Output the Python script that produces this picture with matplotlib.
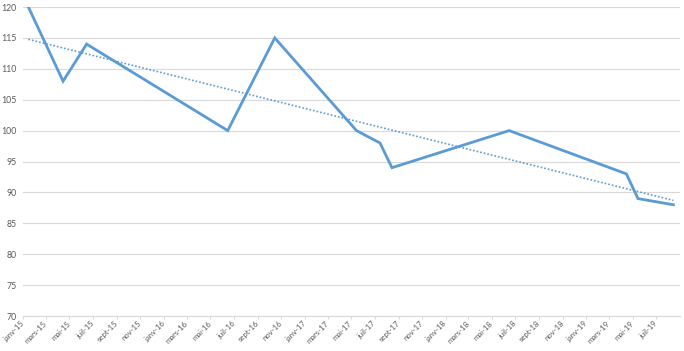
import datetime as dt
import matplotlib
matplotlib.use("Agg")
import matplotlib.pyplot as plt
import matplotlib.dates as mdates
import matplotlib.transforms as mtransforms
import numpy as np

plt.rcParams['font.family'] = ['Lato', 'DejaVu Sans']

# values (mid-month dates)
dates = [dt.date(2015, 1, 15), dt.date(2015, 4, 15), dt.date(2015, 6, 15),
         dt.date(2016, 6, 15), dt.date(2016, 10, 15), dt.date(2017, 5, 15),
         dt.date(2017, 7, 15), dt.date(2017, 8, 15), dt.date(2018, 6, 15),
         dt.date(2019, 4, 15), dt.date(2019, 5, 15), dt.date(2019, 8, 15)]
values = [120, 108, 114, 100, 115, 100, 98, 94, 100, 93, 89, 88]

mois = ['janv', 'févr', 'mars', 'avr', 'mai', 'juin',
        'juil', 'août', 'sept', 'oct', 'nov', 'déc']

blue = '#5B9BD5'
grid = '#D9D9D9'
txt = '#595959'

fig = plt.figure(figsize=(6.84, 3.51), dpi=100)
ax = fig.add_axes([0.0336, 0.0997, 0.9605, 0.8803])

x = mdates.date2num(dates)
ax.plot(x, values, color=blue, lw=2.0, solid_joinstyle='miter', zorder=3)

# linear trendline
coef = np.polyfit(x, values, 1)
ax.plot(x, np.polyval(coef, x), color=blue, lw=1.2, ls=(0, (1, 1.2)), zorder=2)

ax.set_ylim(70, 120)
ax.set_yticks(range(70, 121, 5))
ax.set_xlim(mdates.date2num(dt.date(2015, 1, 1)), mdates.date2num(dt.date(2019, 9, 1)))

ticks = [dt.date(2015 + (m // 12), m % 12 + 1, 1) for m in range(0, 56, 2)]
ax.set_xticks(mdates.date2num(ticks))
ax.set_xticklabels([f"{mois[d.month - 1]}-{d.year % 100}" for d in ticks],
                   rotation=45, ha='right', va='center', rotation_mode='anchor')
shift = mtransforms.ScaledTranslation(0.045, 0, fig.dpi_scale_trans)
for lab in ax.get_xticklabels():
    lab.set_transform(lab.get_transform() + shift)

ax.grid(axis='y', color=grid, lw=0.8)
ax.set_axisbelow(True)
for s in ['top', 'right', 'left']:
    ax.spines[s].set_visible(False)
ax.spines['bottom'].set_color(grid)
ax.tick_params(axis='y', length=0, pad=4.5, labelsize=6.3, labelcolor=txt)
ax.tick_params(axis='x', length=2.5, color=grid, pad=2, labelsize=5.6, labelcolor=txt)

fig.savefig('out.png', dpi=100)
